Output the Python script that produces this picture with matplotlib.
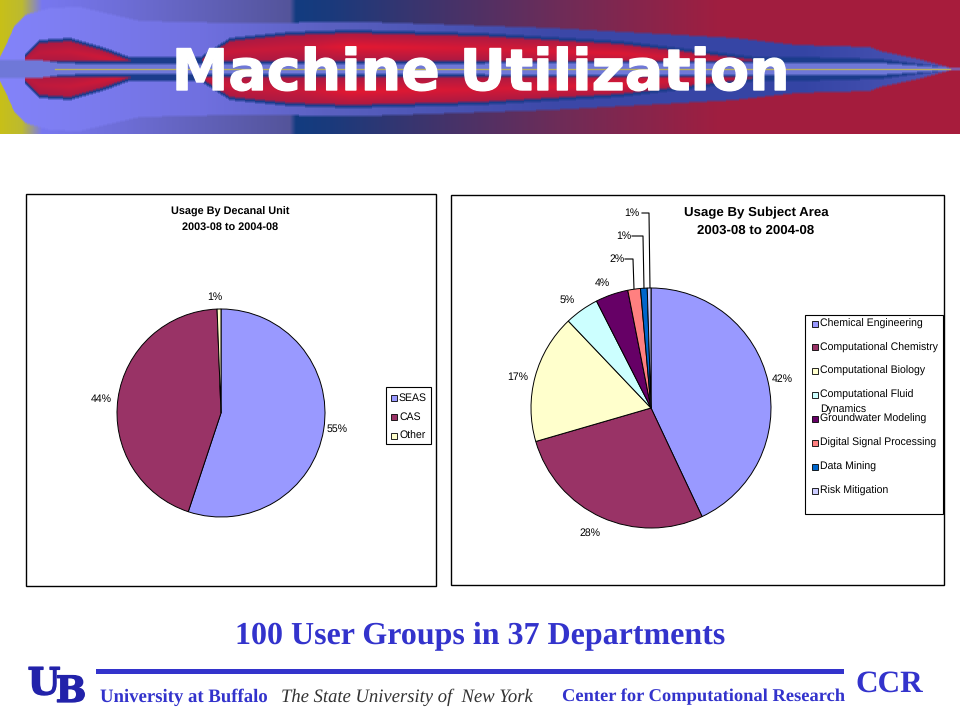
import numpy as np
import matplotlib
matplotlib.use("Agg")
import matplotlib.pyplot as plt
import matplotlib.patheffects as pe
from matplotlib.colors import to_rgb
from matplotlib.patches import Rectangle

plt.rcParams["text.hinting"] = "no_hinting"

W, H = 960, 720

# Charts
decanal_units = ["SEAS", "CAS", "Other"]
decanal_values = [55.1, 44.3, 0.6]
decanal_labels = ["55%", "44%", "1%"]
decanal_colors = ["#9999FF", "#993366", "#FFFFCC"]

subject_areas = ["Chemical Engineering", "Computational Chemistry", "Computational Biology",
                 "Computational Fluid\nDynamics", "Groundwater Modeling",
                 "Digital Signal Processing", "Data Mining", "Risk Mitigation"]
subject_values = [43.0, 27.5, 17.4, 4.6, 4.4, 1.7, 0.9, 0.5]
subject_labels = ["42%", "28%", "17%", "5%", "4%", "2%", "1%", "1%"]
subject_colors = ["#9999FF", "#993366", "#FFFFCC", "#CCFFFF", "#660066", "#FF8080", "#0066CC", "#CCCCFF"]

# Banner outline, half widths around the centre line
plume_x = [0, 6, 14, 25, 50, 80, 105, 140, 230, 367, 551, 735, 796, 870, 880, 918, 955]
plume_half = [12, 24, 42, 54, 61, 62, 56, 48, 46, 47, 41, 31, 24, 22, 18, 10, 0]
lobe_x = [202, 230, 290, 350, 480, 620, 765]
lobe_half = [10, 28, 34, 36, 33, 25, 8]
left_lobe_x = [25, 40, 70, 105, 140]
left_lobe_half = [12, 26, 28, 18, 5]

BLUE = "#3333CC"
SANS = "Liberation Sans"
SERIF = "Liberation Serif"

fig = plt.figure(figsize=(W / 100, H / 100), dpi=100, facecolor="white")


def px_axes(x0, y0, x1, y1, **kw):
    return fig.add_axes([x0 / W, 1 - y1 / H, (x1 - x0) / W, (y1 - y0) / H], **kw)


def gradient(xs, stops, colors):
    rgb = np.array([to_rgb(c) for c in colors])
    return np.stack([np.interp(xs, stops, rgb[:, i]) for i in range(3)], axis=-1)


# ---- banner, painted column by column around the centre line
xs = np.arange(W) + 0.5
ys = np.arange(134) + 0.5
d = np.abs(ys - 69)[:, None]

img = np.repeat(gradient(xs, [0, 22, 42, 120, 290, 296, 330, 560, 720, 960],
                         ["#C8C018", "#BCBA30", "#7878F0", "#6E6ED8", "#54549A", "#123C80", "#1A3A7C",
                          "#6E2C58", "#A01E40", "#A81C3C"])[None], 134, axis=0)
env = np.interp(xs, plume_x, plume_half)
plume_col = gradient(xs, [0, 200, 330, 560, 800, 960],
                     ["#8484FA", "#7070E0", "#5A60C0", "#3C48A8", "#3444A4", "#5058B8"])
img = np.where((d < env[None])[..., None], plume_col[None], img)

lobe = np.interp(xs, lobe_x, lobe_half, left=0, right=0)
left_lobe = np.interp(xs, left_lobe_x, left_lobe_half, left=0, right=0)
halves = np.maximum(lobe, left_lobe)
navy = np.array(to_rgb("#1C3C8C"))
red = np.array(to_rgb("#A81A44"))
bright = np.array(to_rgb("#E81830"))
# navy rim around the lobes and along the axis
rim = (d < (halves + 3)[None]) & (halves[None] > 0)
img = np.where(rim[..., None], navy, img)
band_half = np.interp(xs, [20, 40, 800, 880, 950], [0, 12, 12, 10, 1])
img = np.where((d < band_half[None])[..., None], navy, img)
inside = (d < halves[None]) & (d > 8)
t = np.clip(1 - np.abs(d / np.maximum(halves, 1)[None] - 0.62) / 0.4, 0, 1)[..., None]
glow = np.interp(xs, [25, 100, 300, 350, 480, 620, 765], [0.3, 0.6, 0.5, 0.95, 0.7, 0.85, 0.2])[None, :, None]
shade = red + (bright - red) * t * glow
img = np.where(inside[..., None], shade, img)
# pale core
core = np.array(to_rgb("#7078D8"))
core_half = np.interp(xs, [0, 40, 60, 90, 880, 955], [9, 9, 6, 5, 6, 1])
img = np.where((d < core_half[None])[..., None], core, img)
# soften the hard edges a little
kernel = np.ones(3) / 3
for ch in range(3):
    img[:, :, ch] = np.apply_along_axis(np.convolve, 0, img[:, :, ch], kernel, mode="same")
img[0, :] = img[1, :]
img[-1, :] = img[-2, :]

ban = px_axes(0, 0, W, 134)
ban.set_xlim(0, W)
ban.set_ylim(134, 0)
ban.axis("off")
ban.imshow(np.clip(img, 0, 1), extent=[0, W, 134, 0], aspect="auto", interpolation="bilinear", zorder=0)
ban.plot([55, 950], [69, 69], color="#B8B060", lw=1, zorder=6)
ban.text(481, 90, "Machine Utilization", color="white", fontsize=41, fontweight="bold",
         family="DejaVu Sans", ha="center", va="baseline", zorder=7,
         path_effects=[pe.withStroke(linewidth=1, foreground="white")])

# ---- overlay in pixel coordinates for frames, legends and footer
ov = px_axes(0, 0, W, H)
ov.set_xlim(0, W)
ov.set_ylim(H, 0)
ov.axis("off")
ov.patch.set_alpha(0)
ov.set_zorder(0)

for x0, y0, x1, y1 in [(26, 194, 436, 586), (451, 195, 944, 585)]:
    ov.add_patch(Rectangle((x0, y0), x1 - x0, y1 - y0, fc="white", ec="black", lw=1))


def draw_pie(cx, cy, r, values, colors):
    ax = px_axes(cx - r * 1.05, cy - r * 1.05, cx + r * 1.05, cy + r * 1.05)
    ax.set_zorder(1)
    ax.pie(values, colors=colors, startangle=90, counterclock=False, radius=1,
           wedgeprops={"edgecolor": "black", "linewidth": 0.7})
    ax.set_xlim(-1.05, 1.05)
    ax.set_ylim(-1.05, 1.05)
    return ax


draw_pie(221, 413, 104, decanal_values, decanal_colors)
draw_pie(651, 408, 120, subject_values, subject_colors)


def small(x, y, s, **kw):
    kw.setdefault("fontsize", 7.6)
    kw.setdefault("ha", "center")
    ov.text(x, y, s, family=SANS, va="center", color="black", **kw)


# titles
small(230, 212, "Usage By Decanal Unit", fontweight="bold", fontsize=7.8)
small(230, 227, "2003-08 to 2004-08", fontweight="bold", fontsize=7.8)
small(756, 213, "Usage By Subject Area", fontweight="bold", fontsize=9.5)
small(756, 231, "2003-08 to 2004-08", fontweight="bold", fontsize=9.5)

# pie labels
for pos, s in zip([(337, 429), (101, 399), (215, 297)], decanal_labels):
    small(pos[0], pos[1], s)
subject_pos = [(782, 379), (590, 533), (518, 377), (567, 300), (602, 283), (617, 259), (624, 236), (632, 213)]
for pos, s in zip(subject_pos, subject_labels):
    small(pos[0], pos[1], s)

# leader lines
for xs_, ys_ in [([625, 633, 634], [259, 259, 289]),
                 ([632, 643, 644], [236, 236, 289]),
                 ([642, 649, 650], [213, 213, 289])]:
    ov.plot(xs_, ys_, color="black", lw=0.8)

# legends
ov.add_patch(Rectangle((386, 387), 45, 57, fc="white", ec="black", lw=0.8))
for i, (name, c) in enumerate(zip(decanal_units, decanal_colors)):
    y = 398 + i * 19
    ov.add_patch(Rectangle((391, y - 3), 6, 6, fc=c, ec="black", lw=0.6))
    small(399, y, name, ha="left", fontsize=7.6)

ov.add_patch(Rectangle((805, 315), 138, 199, fc="white", ec="black", lw=0.8))
for i, (name, c) in enumerate(zip(subject_areas, subject_colors)):
    y = 323.5 + i * 23.9
    ov.add_patch(Rectangle((812, y - 3), 6, 6, fc=c, ec="black", lw=0.6))
    if "\n" in name:
        first, second = name.split("\n")
        small(820.5, y, first, ha="left")
        small(820.5, y + 14.5, second, ha="left")
    else:
        small(820.5, y, name, ha="left")

# ---- footer
ov.text(480, 636, "100 User Groups in 37 Departments", color=BLUE, family=SERIF, fontweight="bold",
        fontsize=23, ha="center", va="center")
ov.add_patch(Rectangle((96, 669), 748, 5, fc=BLUE, ec="none"))
logo_fx = [pe.withStroke(linewidth=1, foreground="#2222AA")]
ov.text(44, 684, "U", color="#2222AA", family="DejaVu Serif", fontweight="bold", fontsize=27, ha="center",
        va="center", path_effects=logo_fx)
ov.text(71, 692, "B", color="#2222AA", family="DejaVu Serif", fontweight="bold", fontsize=26, ha="center",
        va="center", path_effects=logo_fx)
ov.text(100, 697, "University at Buffalo", color=BLUE, family=SERIF, fontweight="bold", fontsize=13.5,
        ha="left", va="center")
ov.text(281, 697, "The State University of  New York", color="#333333", family=SERIF, style="italic",
        fontsize=13.4, ha="left", va="center")
ov.text(562, 697, "Center for Computational Research", color=BLUE, family=SERIF, fontweight="bold",
        fontsize=13.3, ha="left", va="center")
ov.text(855, 684, "CCR", color=BLUE, family=SERIF, fontweight="bold", fontsize=22.5, ha="left", va="center")

fig.savefig("out.png", dpi=100)
